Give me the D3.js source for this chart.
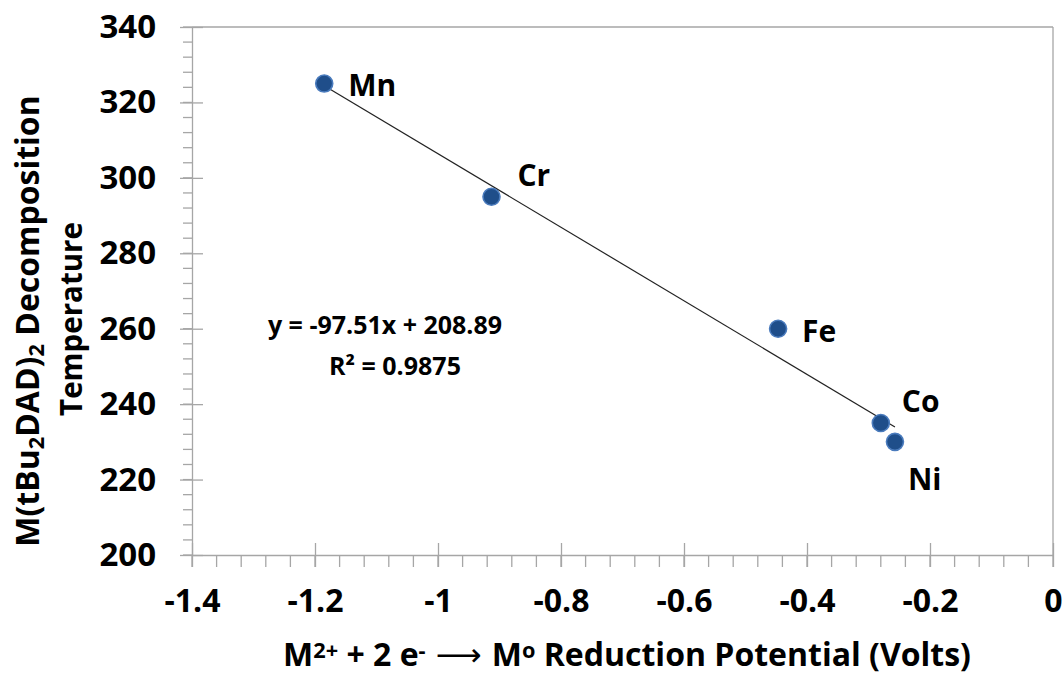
<!DOCTYPE html>
<html><head><meta charset="utf-8">
<script src="https://cdn.jsdelivr.net/npm/d3@7"></script>
<style>
body{margin:0;background:#fff;}
text{font-family:"Open Sans",Lato,sans-serif;font-weight:700;fill:#000;}
</style></head>
<body><svg id="c" width="1064" height="675"></svg>
<script>
const metals = ["Mn","Cr","Fe","Co","Ni"];
const potentials = [-1.185,-0.913,-0.447,-0.28,-0.257];
const temps = [325,295,260,235,230];
const xTicks = [-1.4,-1.2,-1,-0.8,-0.6,-0.4,-0.2,0];
const yTicks = [200,220,240,260,280,300,320,340];
const slope = -97.51, intercept = 208.89;
const eqLabel = "y = -97.51x + 208.89";
const r2Label = "R² = 0.9875";

const svg = d3.select("#c");
const L=192, R=1053, T=27, B=555;
const x = d3.scaleLinear().domain([-1.4,0]).range([L,R]);
const y = d3.scaleLinear().domain([200,340]).range([B,T]);
const gray="#a6a6a6";
const FF = "'Open Sans', sans-serif";

// border top/right
svg.append("line").attr("x1",L).attr("x2",R).attr("y1",T).attr("y2",T).attr("stroke",gray).attr("stroke-width",1.3);
svg.append("line").attr("x1",R).attr("x2",R).attr("y1",T).attr("y2",B).attr("stroke",gray).attr("stroke-width",1.3);

// minor ticks
const xMinor = d3.range(-1.4,0.0001,0.04).map(v=>+v.toFixed(2));
svg.append("g").selectAll("line").data(xMinor).join("line")
  .attr("x1",d=>x(d)).attr("x2",d=>x(d)).attr("y1",B).attr("y2",B+12)
  .attr("stroke",gray).attr("stroke-width",1.3);
const yMinor = d3.range(200,340.001,4);
svg.append("g").selectAll("line").data(yMinor).join("line")
  .attr("x1",L-9).attr("x2",L).attr("y1",d=>y(d)).attr("y2",d=>y(d))
  .attr("stroke",gray).attr("stroke-width",1.3);

// axes
const fmt = d => String(+d.toFixed(2));
const xAxis = d3.axisBottom(x).tickValues(xTicks).tickSizeInner(12).tickSizeOuter(0).tickFormat(fmt).tickPadding(22);
const gx = svg.append("g").attr("transform",`translate(0,${B})`).call(xAxis);
gx.select(".domain").attr("stroke",gray).attr("stroke-width",1.3);
gx.selectAll(".tick line").attr("stroke",gray).attr("stroke-width",1.3).attr("y1",-12);
gx.selectAll(".tick text").style("font-size","32px").attr("fill","#000").style("font-family",FF).style("font-weight","700");

const yAxis = d3.axisLeft(y).tickValues(yTicks).tickFormat(fmt).tickSizeInner(12).tickSizeOuter(0).tickPadding(24);
const gy = svg.append("g").attr("transform",`translate(${L},0)`).call(yAxis);
gy.select(".domain").attr("stroke",gray).attr("stroke-width",1.3);
gy.selectAll(".tick line").attr("stroke",gray).attr("stroke-width",1.3).attr("x2",11).attr("x1",-12);
gy.selectAll(".tick text").style("font-size","33px").attr("fill","#000").style("font-family",FF).style("font-weight","700");

// trendline
const xMin = d3.min(potentials), xMax = d3.max(potentials);
svg.append("line").attr("x1",x(xMin)).attr("y1",y(slope*xMin+intercept))
  .attr("x2",x(xMax)).attr("y2",y(slope*xMax+intercept))
  .attr("stroke","#222").attr("stroke-width",1.2);

// points
const pts = metals.map((m,i)=>({m,px:potentials[i],t:temps[i]}));
svg.append("g").selectAll("circle").data(pts).join("circle")
  .attr("cx",d=>x(d.px)).attr("cy",d=>y(d.t)).attr("r",8.5)
  .attr("fill","#1f4e8a").attr("stroke","#4a7bbd").attr("stroke-width",1.6);

// labels
const labelOff = {Mn:[24,12],Cr:[26,-11],Fe:[24,13],Co:[21,-11],Ni:[13,48]};
svg.append("g").selectAll("text").data(pts).join("text")
  .attr("x",d=>x(d.px)+labelOff[d.m][0]).attr("y",d=>y(d.t)+labelOff[d.m][1])
  .style("font-size","30px").text(d=>d.m);

// equation
svg.append("text").attr("x",385).attr("y",334).attr("text-anchor","middle").style("font-size","25px").text(eqLabel);
svg.append("text").attr("x",395).attr("y",375).attr("text-anchor","middle").style("font-size","25px").text(r2Label);

// x title
const xt = svg.append("text").attr("x",627).attr("y",666).attr("text-anchor","middle").style("font-size","32px");
xt.append("tspan").text("M");
xt.append("tspan").attr("dy","-0.36em").style("font-size","0.68em").text("2+");
xt.append("tspan").attr("dy","0.245em").text(" + 2 e");
xt.append("tspan").attr("dy","-0.36em").style("font-size","0.68em").text("-");
xt.append("tspan").attr("dy","0.245em").style("font-family","DejaVu Sans").style("font-weight","400").text(" ⟶ ");
xt.append("tspan").text("M");
xt.append("tspan").attr("dy","-0.36em").style("font-size","0.68em").text("o");
xt.append("tspan").attr("dy","0.245em").text("  Reduction Potential (Volts)");

// y title
const yt = svg.append("text").attr("transform","translate(39,321) rotate(-90)").attr("text-anchor","middle").style("font-size","32px");
yt.append("tspan").text("M(tBu");
yt.append("tspan").attr("dy","0.25em").style("font-size","0.68em").text("2");
yt.append("tspan").attr("dy","-0.17em").text("DAD)");
yt.append("tspan").attr("dy","0.25em").style("font-size","0.68em").text("2");
yt.append("tspan").attr("dy","-0.17em").text("  Decomposition");
svg.append("text").attr("transform","translate(82,319) rotate(-90)").attr("text-anchor","middle").style("font-size","29.5px").text("Temperature");
</script></body></html>
